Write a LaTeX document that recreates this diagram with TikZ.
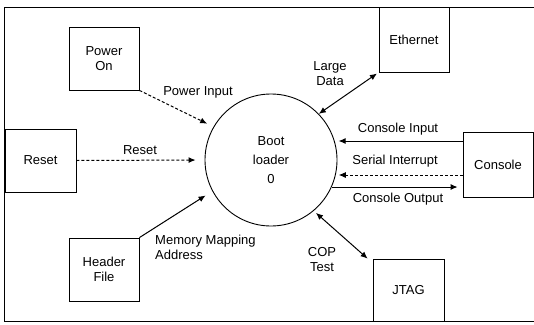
\documentclass[tikz,border=0pt]{standalone}
\usepackage{fontspec}
\setmainfont{Liberation Sans}
\usetikzlibrary{arrows.meta}

\begin{document}
\begin{tikzpicture}[x=1pt,y=-1pt,
  font=\fontsize{13}{15}\selectfont,
  blk/.style={draw,line width=0.8pt,rectangle,inner sep=0pt,align=center},
  flow/.style={line width=1pt,-{Latex[length=7pt,width=6pt]}},
  biflow/.style={line width=1pt,{Latex[length=7pt,width=6pt]}-{Latex[length=7pt,width=6pt]}},
  ctrl/.style={flow,dash pattern=on 3pt off 2pt},
  lbl/.style={inner sep=0pt,align=center}]

\useasboundingbox (0,0) rectangle (534,324);

% outer frame (right side runs off the page)
\draw[line width=0.9pt] (534,7) -- (4,7) -- (4,321) -- (534,321);

% external blocks
\node[blk,minimum width=70pt,minimum height=63pt] (pon) at (104,58.5) {Power\\On};
\node[blk,minimum width=71pt,minimum height=63pt] (rst) at (40.5,160.5) {Reset};
\node[blk,minimum width=70pt,minimum height=63pt] (hdr) at (104,269.5) {Header\\File};
\node[blk,minimum width=70pt,minimum height=65pt] (eth) at (414,39.5) {Ethernet};
\node[blk,minimum width=70pt,minimum height=65pt] (con) at (498,164.5) {Console};
\node[blk,minimum width=71pt,minimum height=62pt] (jtag) at (408.5,290) {JTAG};

% boot loader process
\node[draw,circle,line width=0.9pt,minimum size=132pt,inner sep=0pt,align=center]
  (boot) at (271,160) {Boot\\[4pt]loader\\[4pt]0};

% inputs from the left
\draw[ctrl,shorten >=7pt] (pon.south east) -- (boot.150);
\draw[ctrl,shorten >=9pt] (rst.east) -- (boot.west);
\draw[flow,shorten >=8pt] (hdr.north east) -- (boot.208);

% ethernet and JTAG links
\draw[biflow,shorten >=2pt] (boot.44) -- (eth.south west);
\draw[biflow,shorten <=3pt] (boot.-50) -- ([xshift=-5pt]jtag.north west);

% console links
\coordinate (ciS) at ([yshift=23.5pt]con.west);
\coordinate (ciE) at ([xshift=4pt]boot.17);
\draw[flow] (ciS) -- (ciS -| ciE);
\coordinate (siS) at ([yshift=-10.5pt]con.west);
\coordinate (siE) at ([xshift=3pt]boot.-13);
\draw[ctrl] (siS) -- (siS -| siE);
\coordinate (coS) at (boot.-24.6);
\coordinate (coE) at ([xshift=-5pt]con.west);
\draw[flow] (coS) -- (coS -| coE);

% connector labels
\node[lbl] (lpi) at (198,92) {Power Input};
\node[lbl] (lrs) at (140,150) {Reset};
\node[lbl,align=left,anchor=west] (lmm) at (155,247) {Memory Mapping\\Address};
\node[lbl] (lld) at (330,74) {Large\\Data};
\node[lbl] (lci) at (398,129) {Console Input};
\node[lbl] (lsi) at (395,161) {Serial Interrupt};
\node[lbl] (lco) at (398,199) {Console Output};
\node[lbl] (lcp) at (322,260) {COP\\Test};
\end{tikzpicture}
\end{document}
